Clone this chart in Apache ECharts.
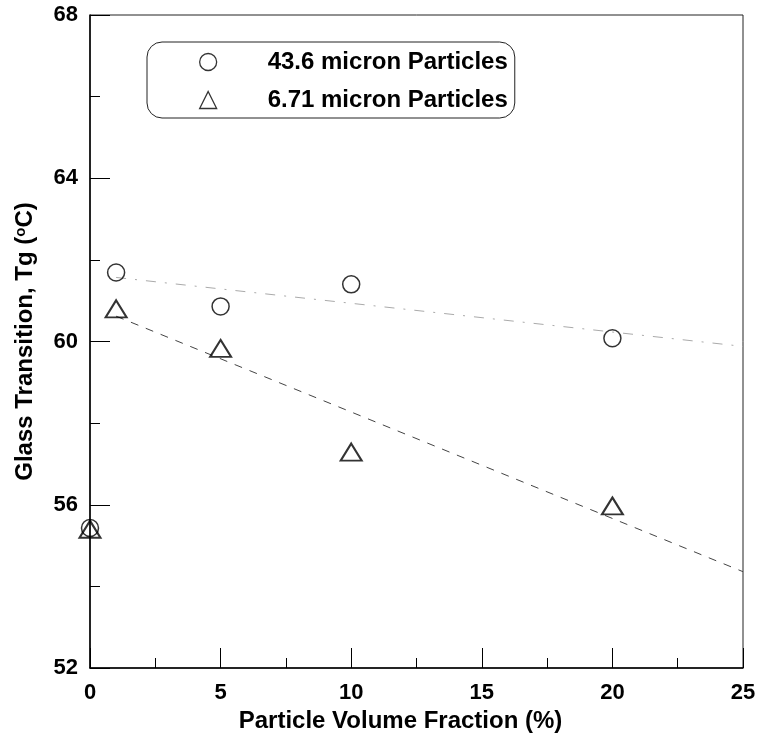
<!DOCTYPE html>
<html>
<head>
<meta charset="utf-8">
<script src="https://cdn.jsdelivr.net/npm/echarts@6/dist/echarts.min.js"></script>
<style>
html,body{margin:0;padding:0;background:#fff;}
#chart{width:759px;height:738px;}
</style>
</head>
<body>
<div id="chart"></div>
<script>
// Data
var volumeFraction = [0, 1, 5, 10, 20];
var tg43 = [55.43, 61.69, 60.86, 61.40, 60.08];
var tg671 = [55.40, 60.80, 59.83, 57.29, 55.97];
var fitX = [1, 25];
var fit43 = [61.57, 59.88];
var fit671 = [60.62, 54.36];
var name43 = '43.6 micron Particles';
var name671 = '6.71 micron Particles';

function pairs(xs, ys) { return xs.map(function (x, i) { return [x, ys[i]]; }); }

var FONT = '"Liberation Sans", Arial, sans-serif';
var chart = echarts.init(document.getElementById('chart'), null, { renderer: 'canvas' });
chart.setOption({
  animation: false,
  backgroundColor: '#fff',
  grid: { left: 90, right: 16, top: 15, bottom: 69, show: true, borderColor: '#222', borderWidth: 1, backgroundColor: 'transparent' },
  legend: {
    orient: 'vertical', left: 147, top: 42,
    backgroundColor: '#fff', borderColor: '#222', borderWidth: 1, borderRadius: 15,
    padding: [8, 7, 6, 52],
    itemWidth: 17, itemHeight: 17, itemGap: 14,
    textStyle: { fontFamily: FONT, fontWeight: 'bold', fontSize: 24, color: '#000', padding: [0, 0, 0, 46], lineHeight: 24 },
    data: [
      { name: name43, icon: 'circle', itemStyle: { color: 'transparent', borderColor: '#000', borderWidth: 1.3 } },
      { name: name671, icon: 'triangle', itemStyle: { color: 'transparent', borderColor: '#000', borderWidth: 1.3 } }
    ]
  },
  xAxis: {
    type: 'value', min: 0, max: 25, interval: 5,
    name: 'Particle Volume Fraction (%)', nameLocation: 'middle', nameGap: 41,
    nameTextStyle: { fontFamily: FONT, fontWeight: 'bold', fontSize: 24, color: '#000', padding: [0, 32, 0, 0] },
    axisLine: { show: true, onZero: false, lineStyle: { color: '#000', width: 1.5 } },
    axisTick: { show: true, inside: true, length: 20, lineStyle: { color: '#000', width: 1 } },
    minorTick: { show: true, splitNumber: 2, length: 10, lineStyle: { color: '#000', width: 1 } },
    axisLabel: { margin: 14, fontFamily: FONT, fontWeight: 'bold', fontSize: 22, color: '#000' },
    splitLine: { show: false }
  },
  yAxis: {
    type: 'value', min: 52, max: 68, interval: 4,
    name: 'Glass Transition, Tg ({sup|o}C)', nameLocation: 'middle', nameGap: 53,
    nameTextStyle: { fontFamily: FONT, fontWeight: 'bold', fontSize: 24, color: '#000',
      rich: { sup: { fontFamily: FONT, fontWeight: 'bold', fontSize: 15, color: '#000', verticalAlign: 'top', padding: [0, 0, 9, 0] } } },
    axisLine: { show: true, onZero: false, lineStyle: { color: '#000', width: 1.5 } },
    axisTick: { show: true, inside: true, length: 20, lineStyle: { color: '#000', width: 1 } },
    minorTick: { show: true, splitNumber: 2, length: 10, lineStyle: { color: '#000', width: 1 } },
    axisLabel: { margin: 12, fontFamily: FONT, fontWeight: 'bold', fontSize: 22, color: '#000' },
    splitLine: { show: false }
  },
  series: [
    {
      name: 'fit43', type: 'line', data: pairs(fitX, fit43), symbol: 'none', silent: true,
      lineStyle: { color: '#aaa', width: 1, type: [10, 9, 2, 9] }, z: 1
    },
    {
      name: 'fit671', type: 'line', data: pairs(fitX, fit671), symbol: 'none', silent: true,
      lineStyle: { color: '#444', width: 1, type: [8, 8] }, z: 1
    },
    {
      name: name43, type: 'scatter', data: pairs(volumeFraction, tg43), symbol: 'circle', symbolSize: 17,
      itemStyle: { color: 'transparent', borderColor: '#000', borderWidth: 1.5 }, z: 3
    },
    {
      name: name671, type: 'scatter', data: pairs(volumeFraction, tg671), symbol: 'triangle', symbolSize: [21, 17],
      itemStyle: { color: 'transparent', borderColor: '#000', borderWidth: 2 }, z: 3
    }
  ]
});
</script>
</body>
</html>
